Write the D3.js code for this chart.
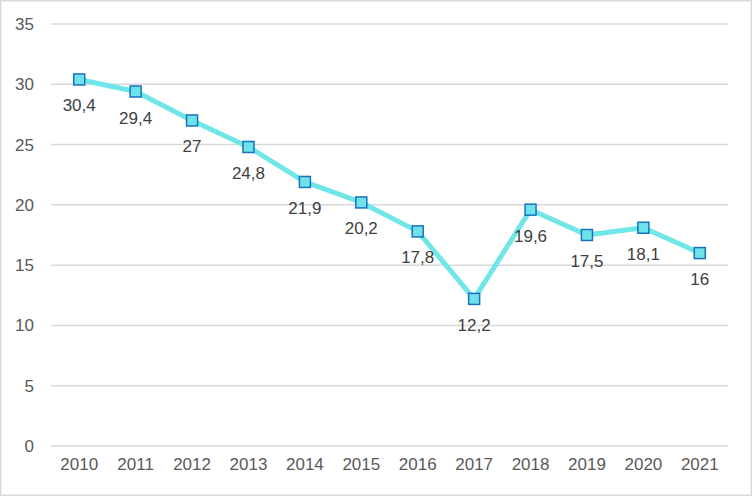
<!DOCTYPE html>
<html><head><meta charset="utf-8">
<script src="https://cdn.jsdelivr.net/npm/d3@7"></script>
<style>html,body{margin:0;padding:0;background:#fff;}svg{display:block;}</style>
</head><body>
<svg id="chart" width="752" height="496"></svg>
<script>
const years = ["2010","2011","2012","2013","2014","2015","2016","2017","2018","2019","2020","2021"];
const values = [30.4, 29.4, 27, 24.8, 21.9, 20.2, 17.8, 12.2, 19.6, 17.5, 18.1, 16];
const yTicks = [0, 5, 10, 15, 20, 25, 30, 35];

const svg = d3.select("#chart");
const W = 752, H = 496;
const font = "'Liberation Sans', Arial, sans-serif";
const textColor = "#595959";

svg.append("rect").attr("x", 0.75).attr("y", 0.75).attr("width", W - 1.5).attr("height", H - 1.5)
  .attr("fill", "#fff").attr("stroke", "#d9d9d9").attr("stroke-width", 1.5);

const x = d3.scaleBand().domain(years).range([51, 728]);
const y = d3.scaleLinear().domain([0, 35]).range([446, 24]);

svg.append("g").selectAll("line").data(yTicks).join("line")
  .attr("x1", 51).attr("x2", 728)
  .attr("y1", d => y(d)).attr("y2", d => y(d))
  .attr("stroke", "#d9d9d9").attr("stroke-width", 1.5);

const yAxis = d3.axisLeft(y).tickValues(yTicks).tickSize(0).tickPadding(0);
const gy = svg.append("g").attr("transform", "translate(34,0)").call(yAxis);
gy.select(".domain").remove();
gy.selectAll("text").attr("font-family", font).attr("font-size", 17).attr("fill", textColor);

const xAxis = d3.axisBottom(x).tickSize(0).tickPadding(0);
const gx = svg.append("g").attr("transform", "translate(0,458)").call(xAxis);
gx.select(".domain").remove();
gx.selectAll("text").attr("font-family", font).attr("font-size", 17).attr("fill", textColor);

const cx = d => x(d) + x.bandwidth() / 2;
const pts = years.map((yr, i) => ({ yr, v: values[i] }));

svg.append("path").datum(pts)
  .attr("d", d3.line().x(d => cx(d.yr)).y(d => y(d.v)))
  .attr("fill", "none").attr("stroke", "#70e6e8").attr("stroke-width", 5)
  .attr("stroke-linejoin", "round");

const s = 11;
svg.append("g").selectAll("rect").data(pts).join("rect")
  .attr("x", d => cx(d.yr) - s / 2).attr("y", d => y(d.v) - s / 2)
  .attr("width", s).attr("height", s)
  .attr("fill", "#6de2ea").attr("stroke", "#1a72bd").attr("stroke-width", 1.5);

svg.append("g").selectAll("text").data(pts).join("text")
  .attr("x", d => cx(d.yr)).attr("y", d => y(d.v) + 32)
  .attr("text-anchor", "middle")
  .attr("font-family", font).attr("font-size", 17).attr("fill", "#404040")
  .text(d => String(d.v).replace(".", ","));
</script>
</body></html>
